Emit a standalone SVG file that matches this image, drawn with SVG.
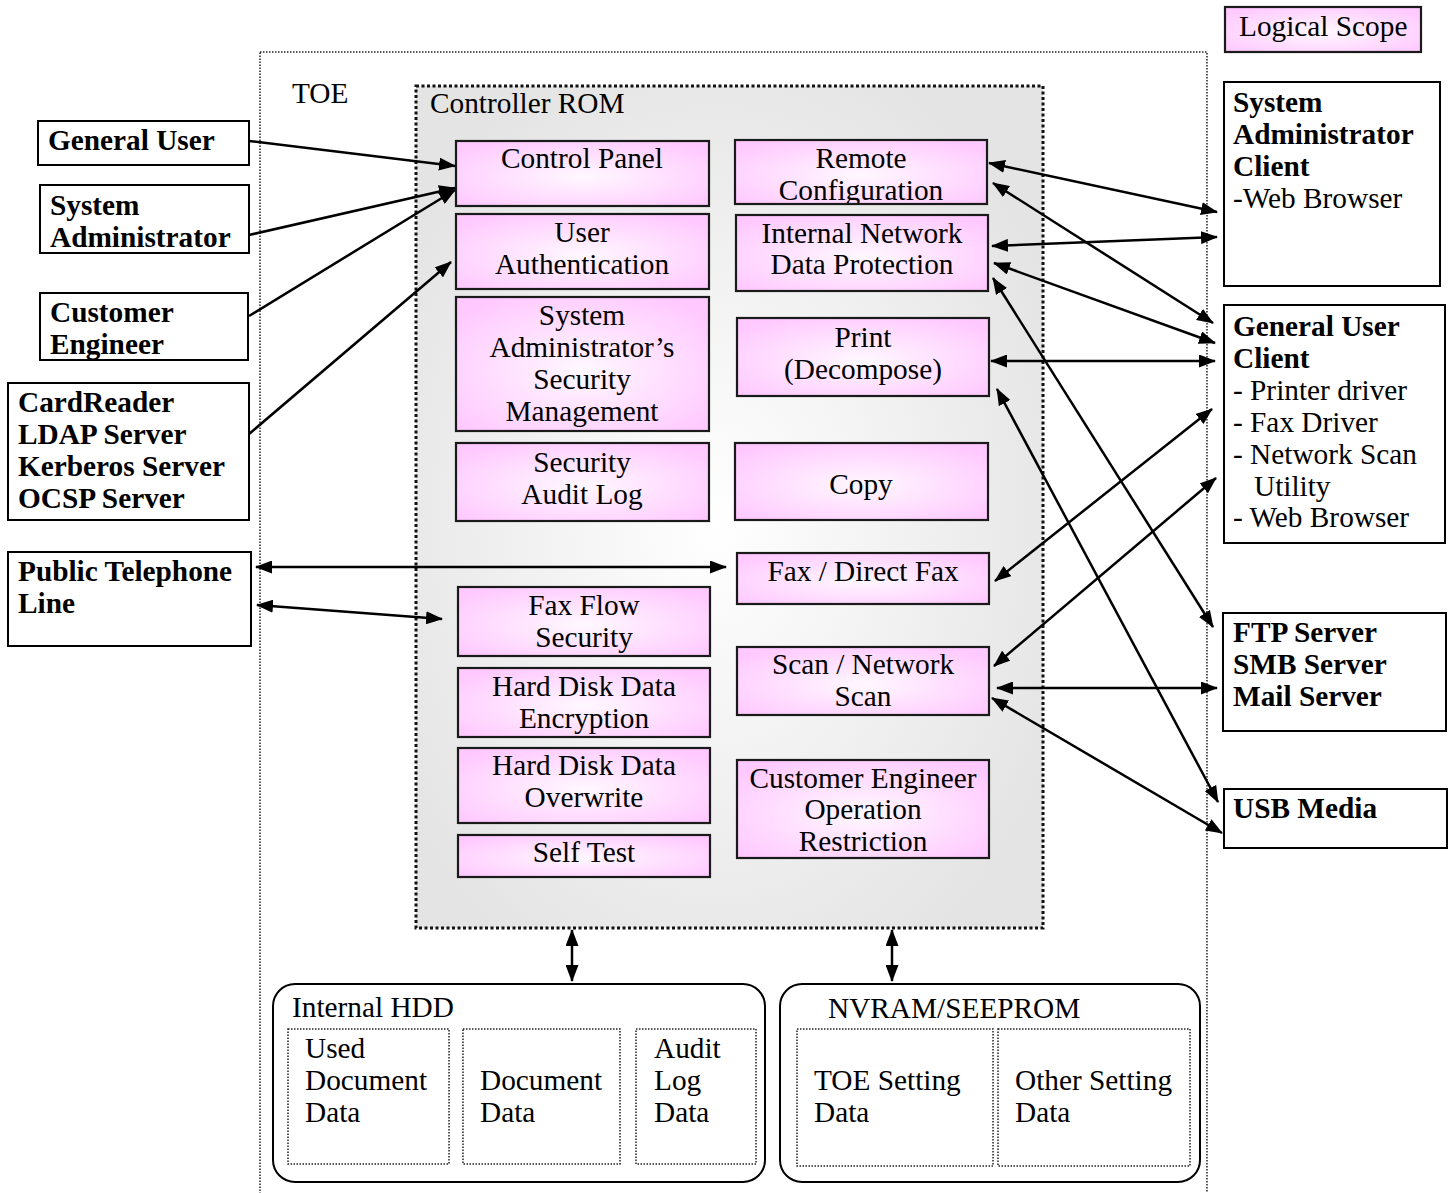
<svg xmlns="http://www.w3.org/2000/svg" width="1455" height="1193" viewBox="0 0 1455 1193">
<style>
text{font-family:"Liberation Serif","Times New Roman",serif;font-size:29.3px;fill:#000}
.b{font-weight:bold}
.c{text-anchor:middle}
.ext{fill:#fff;stroke:#000;stroke-width:2}
.fn{fill:url(#pink);stroke:#1a1a1a;stroke-width:2.2}
.dot{fill:none;stroke:#222;stroke-width:1.5;stroke-dasharray:1.5 1.5}
.rr{fill:#fff;stroke:#000;stroke-width:2}
.ln{fill:none;stroke:#000;stroke-width:2.5}
.one{marker-end:url(#ah)}
.two{marker-start:url(#ah);marker-end:url(#ah)}
</style>
<defs>
<radialGradient id="pink" cx="50%" cy="55%" r="65%">
<stop offset="0" stop-color="#fff8ff"/>
<stop offset="0.5" stop-color="#ffe0ff"/>
<stop offset="1" stop-color="#ffc8ff"/>
</radialGradient>
<radialGradient id="rom" cx="48%" cy="52%" r="60%">
<stop offset="0" stop-color="#ffffff"/>
<stop offset="1" stop-color="#e4e4e4"/>
</radialGradient>
<marker id="ah" markerUnits="userSpaceOnUse" markerWidth="17" markerHeight="13" viewBox="0 0 17 13" refX="16" refY="6.5" orient="auto-start-reverse">
<path d="M0,0 L17,6.5 L0,13 z" fill="#000"/>
</marker>
<clipPath id="clipRC"><rect x="735" y="140" width="252" height="64"/></clipPath>
</defs>

<g id="toe">
<rect x="260" y="52" width="947" height="1160" class="dot"/>
<text x="292" y="103">TOE</text>
</g>

<g id="controller-rom">
<rect x="416" y="86" width="627" height="842" fill="url(#rom)" stroke="#111" stroke-width="3" stroke-dasharray="3 2.5"/>
<text x="430" y="113">Controller ROM</text>
</g>

<g id="legend">
<rect x="1225" y="7" width="196" height="45" class="fn"/>
<text x="1239" y="36">Logical Scope</text>
</g>

<g id="general-user"><rect x="38" y="121" width="211" height="44" class="ext"/><text class="b" x="48" y="150">General User</text></g>
<g id="system-administrator"><rect x="40" y="185" width="209" height="68" class="ext"/><text class="b" x="50" y="215">System</text><text class="b" x="50" y="247">Administrator</text></g>
<g id="customer-engineer"><rect x="40" y="293" width="208" height="67" class="ext"/><text class="b" x="50" y="322">Customer</text><text class="b" x="50" y="354">Engineer</text></g>
<g id="auth-servers"><rect x="8" y="383" width="241" height="137" class="ext"/><text class="b" x="18" y="412">CardReader</text><text class="b" x="18" y="444">LDAP Server</text><text class="b" x="18" y="476">Kerberos Server</text><text class="b" x="18" y="508">OCSP Server</text></g>
<g id="public-telephone-line"><rect x="8" y="552" width="243" height="94" class="ext"/><text class="b" x="18" y="581">Public Telephone</text><text class="b" x="18" y="613">Line</text></g>

<g id="sysadmin-client"><rect x="1224" y="82" width="216" height="204" class="ext"/><text class="b" x="1233" y="112">System</text><text class="b" x="1233" y="144">Administrator</text><text class="b" x="1233" y="176">Client</text><text x="1233" y="208">-Web Browser</text></g>
<g id="general-user-client"><rect x="1224" y="305" width="221" height="238" class="ext"/><text class="b" x="1233" y="336">General User</text><text class="b" x="1233" y="368">Client</text><text x="1233" y="400">- Printer driver</text><text x="1233" y="432">- Fax Driver</text><text x="1233" y="464">- Network Scan</text><text x="1254" y="496">Utility</text><text x="1233" y="527">- Web Browser</text></g>
<g id="servers"><rect x="1223" y="613" width="223" height="118" class="ext"/><text class="b" x="1233" y="642">FTP Server</text><text class="b" x="1233" y="674">SMB Server</text><text class="b" x="1233" y="706">Mail Server</text></g>
<g id="usb-media"><rect x="1224" y="789" width="223" height="59" class="ext"/><text class="b" x="1233" y="818">USB Media</text></g>

<g id="control-panel"><rect x="456" y="141" width="253" height="65" class="fn"/><text class="c" x="582" y="168">Control Panel</text></g>
<g id="user-authentication"><rect x="456" y="214" width="253" height="75" class="fn"/><text class="c" x="582" y="242">User</text><text class="c" x="582" y="274">Authentication</text></g>
<g id="sysadmin-security-management"><rect x="456" y="297" width="253" height="134" class="fn"/><text class="c" x="582" y="325">System</text><text class="c" x="582" y="357">Administrator’s</text><text class="c" x="582" y="389">Security</text><text class="c" x="582" y="421">Management</text></g>
<g id="security-audit-log"><rect x="456" y="443" width="253" height="78" class="fn"/><text class="c" x="582" y="472">Security</text><text class="c" x="582" y="504">Audit Log</text></g>
<g id="fax-flow-security"><rect x="458" y="587" width="252" height="69" class="fn"/><text class="c" x="584" y="615">Fax Flow</text><text class="c" x="584" y="647">Security</text></g>
<g id="hdd-encryption"><rect x="458" y="668" width="252" height="69" class="fn"/><text class="c" x="584" y="696">Hard Disk Data</text><text class="c" x="584" y="728">Encryption</text></g>
<g id="hdd-overwrite"><rect x="458" y="748" width="252" height="75" class="fn"/><text class="c" x="584" y="775">Hard Disk Data</text><text class="c" x="584" y="807">Overwrite</text></g>
<g id="self-test"><rect x="458" y="835" width="252" height="42" class="fn"/><text class="c" x="584" y="862">Self Test</text></g>

<g id="remote-configuration"><rect x="735" y="140" width="252" height="64" fill="url(#pink)"/><g clip-path="url(#clipRC)"><text class="c" x="861" y="168">Remote</text><text class="c" x="861" y="200">Configuration</text></g><rect x="735" y="140" width="252" height="64" fill="none" stroke="#1a1a1a" stroke-width="2.2"/></g>
<g id="internal-network-data-protection"><rect x="736" y="215" width="252" height="76" class="fn"/><text class="c" x="862" y="243">Internal Network</text><text class="c" x="862" y="274">Data Protection</text></g>
<g id="print"><rect x="737" y="318" width="252" height="78" class="fn"/><text class="c" x="863" y="347">Print</text><text class="c" x="863" y="379">(Decompose)</text></g>
<g id="copy"><rect x="735" y="443" width="253" height="77" class="fn"/><text class="c" x="861" y="494">Copy</text></g>
<g id="fax-direct-fax"><rect x="737" y="553" width="252" height="51" class="fn"/><text class="c" x="863" y="581">Fax / Direct Fax</text></g>
<g id="scan-network-scan"><rect x="737" y="647" width="252" height="68" class="fn"/><text class="c" x="863" y="674">Scan / Network</text><text class="c" x="863" y="706">Scan</text></g>
<g id="ce-operation-restriction"><rect x="737" y="760" width="252" height="98" class="fn"/><text class="c" x="863" y="788">Customer Engineer</text><text class="c" x="863" y="819">Operation</text><text class="c" x="863" y="851">Restriction</text></g>

<g id="internal-hdd">
<rect x="273" y="984" width="492" height="198" rx="22" class="rr"/>
<text x="292" y="1017">Internal HDD</text>
<rect x="288" y="1029" width="161" height="135" class="dot"/>
<rect x="463" y="1029" width="157" height="135" class="dot"/>
<rect x="636" y="1029" width="120" height="135" class="dot"/>
<text x="305" y="1058">Used</text><text x="305" y="1090">Document</text><text x="305" y="1122">Data</text>
<text x="480" y="1090">Document</text><text x="480" y="1122">Data</text>
<text x="654" y="1058">Audit</text><text x="654" y="1090">Log</text><text x="654" y="1122">Data</text>
</g>

<g id="nvram-seeprom">
<rect x="780" y="984" width="420" height="198" rx="22" class="rr"/>
<text x="828" y="1018">NVRAM/SEEPROM</text>
<rect x="797" y="1029" width="196" height="137" class="dot"/>
<rect x="998" y="1029" width="192" height="137" class="dot"/>
<text x="814" y="1090">TOE Setting</text><text x="814" y="1122">Data</text>
<text x="1015" y="1090">Other Setting</text><text x="1015" y="1122">Data</text>
</g>

<g id="connectors">
<path class="ln one" d="M249,141 L455,166"/>
<path class="ln one" d="M249,235 L455,188"/>
<path class="ln one" d="M249,316 L455,190"/>
<path class="ln one" d="M249,434 L451,262"/>
<path class="ln two" d="M256,567 L726,567"/>
<path class="ln two" d="M257,605 L442,619"/>
<path class="ln two" d="M989,163 L1217,212"/>
<path class="ln two" d="M993,183 L1213,323"/>
<path class="ln two" d="M992,246 L1217,237"/>
<path class="ln two" d="M994,263 L1215,343"/>
<path class="ln two" d="M993,278 L1213,627"/>
<path class="ln two" d="M991,361 L1215,361"/>
<path class="ln two" d="M997,389 L1218,802"/>
<path class="ln two" d="M995,581 L1212,409"/>
<path class="ln two" d="M994,666 L1216,478"/>
<path class="ln two" d="M997,688 L1217,688"/>
<path class="ln two" d="M992,698 L1222,833"/>
<path class="ln two" d="M572,930 L572,981"/>
<path class="ln two" d="M892,930 L892,981"/>
</g>
</svg>
